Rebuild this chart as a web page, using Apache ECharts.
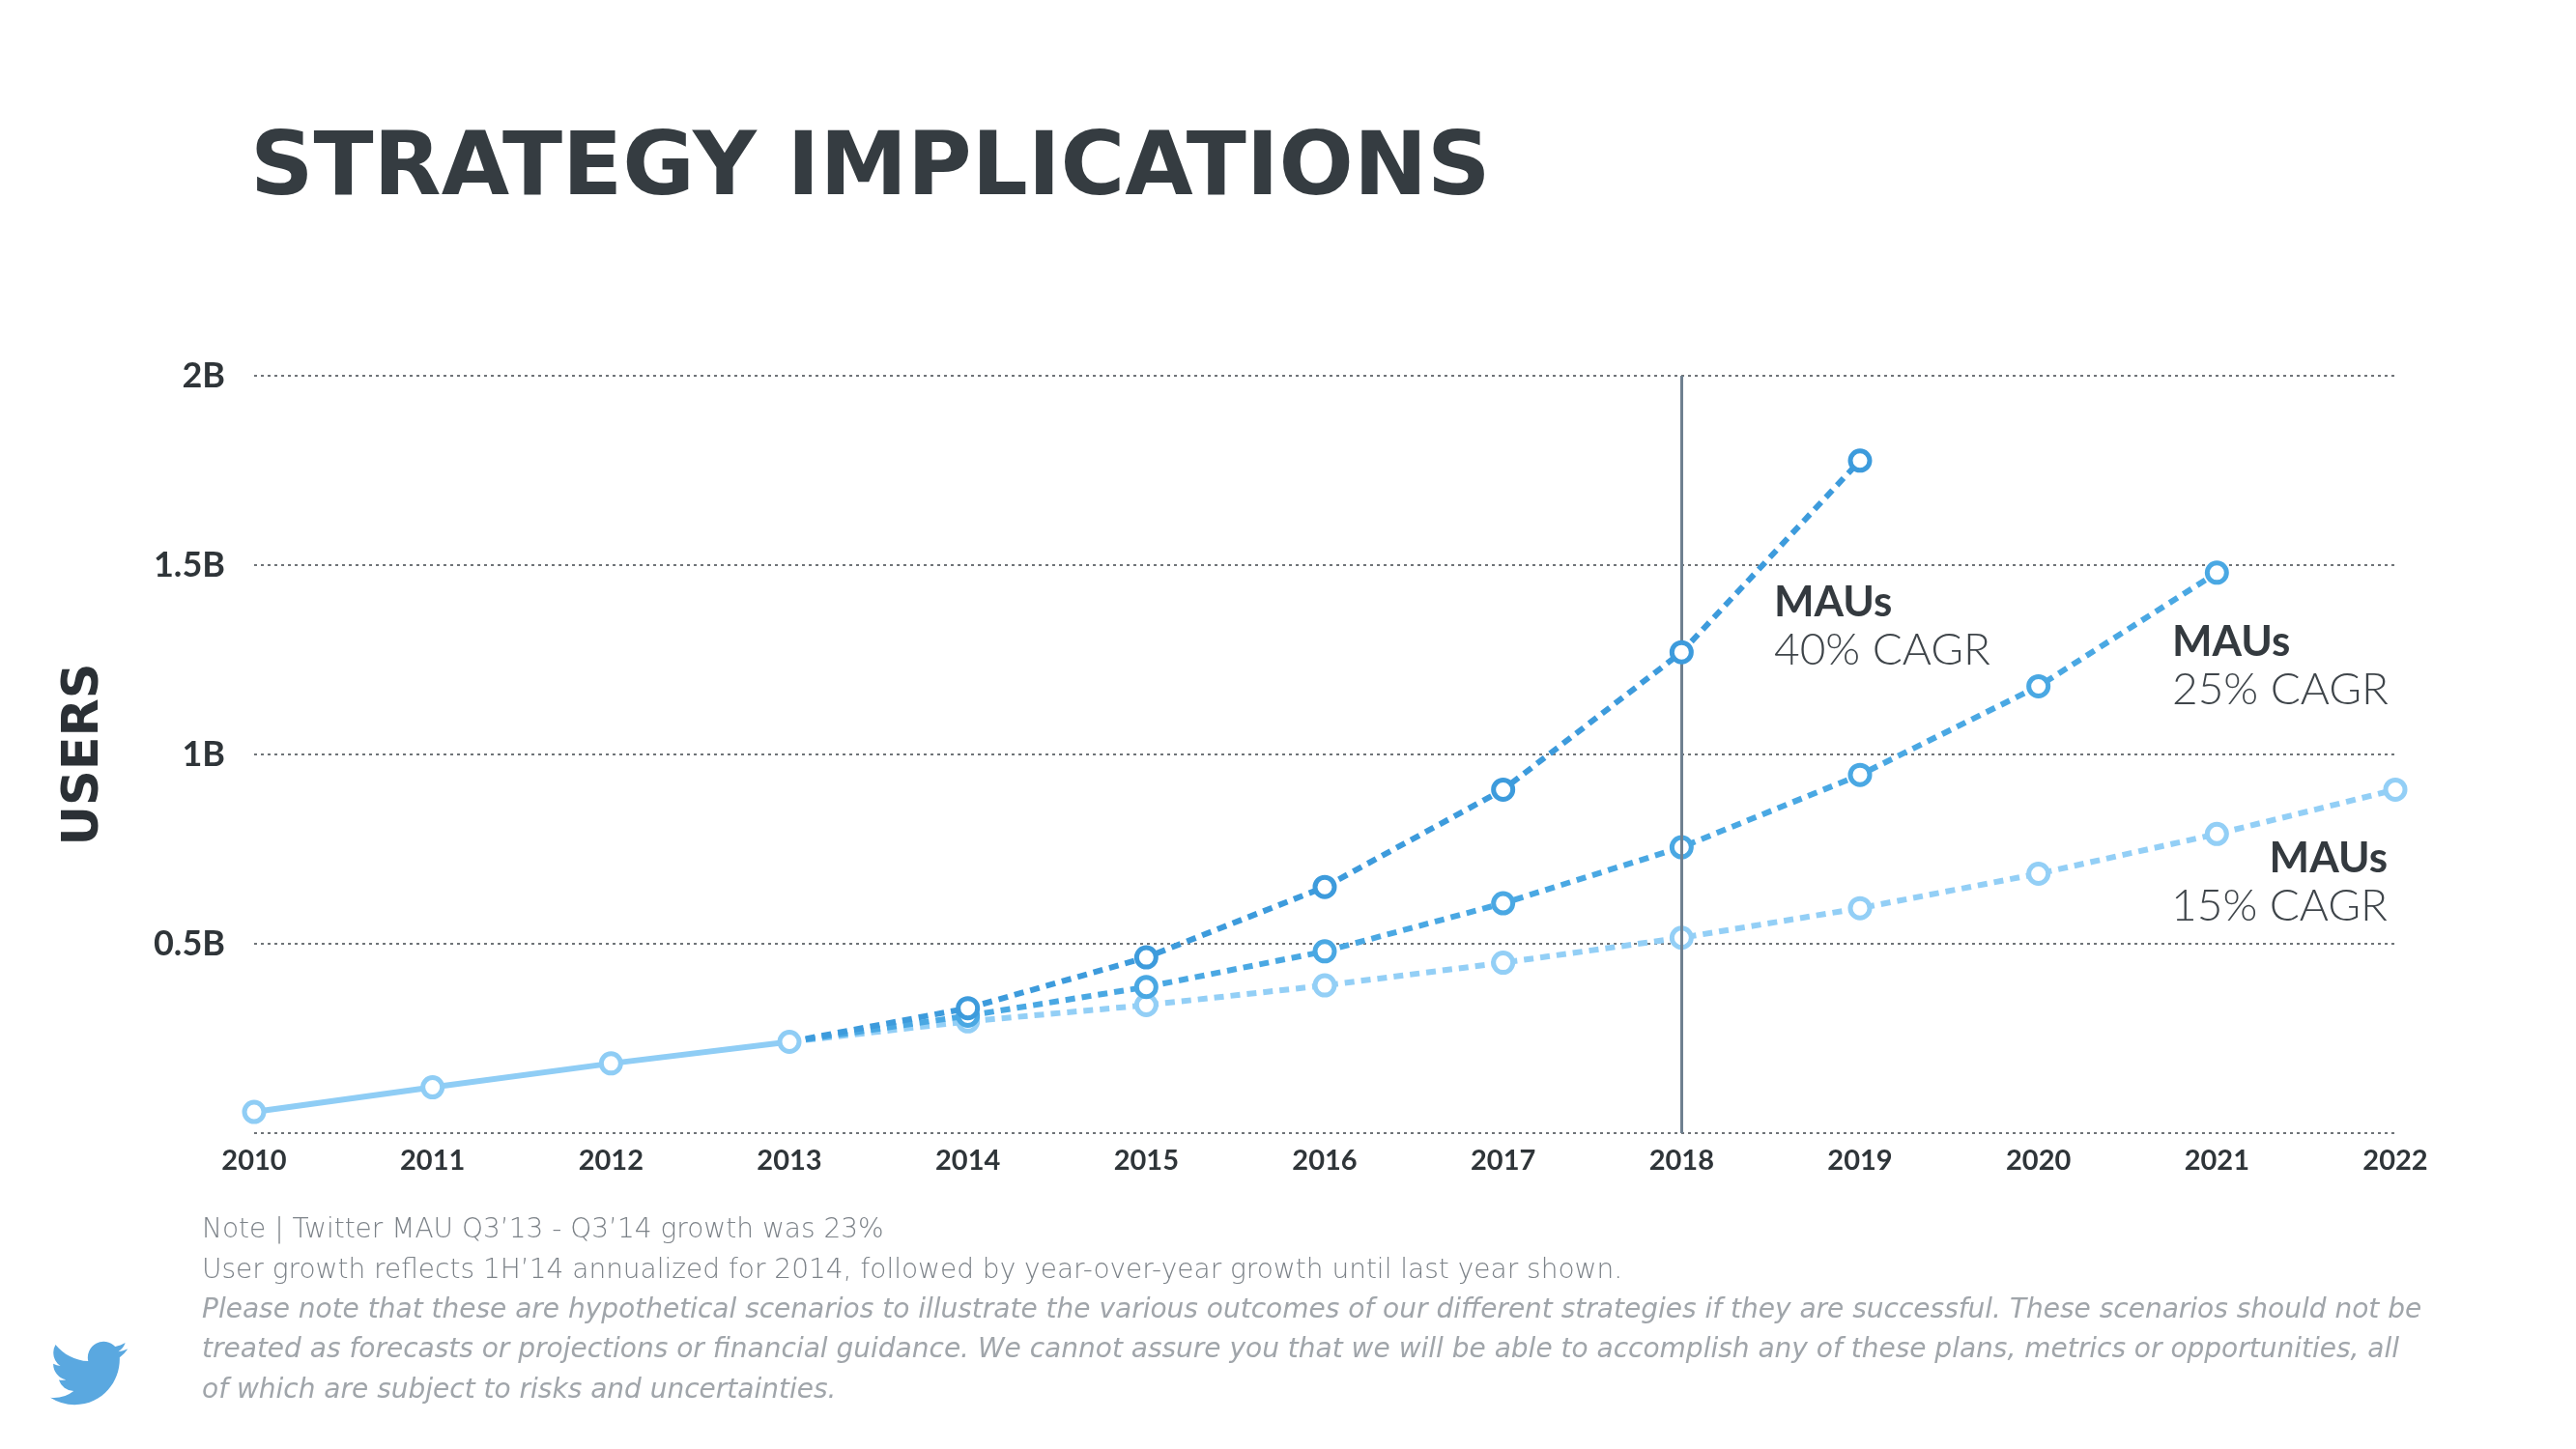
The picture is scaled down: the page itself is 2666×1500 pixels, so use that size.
<!DOCTYPE html>
<html>
<head>
<meta charset="utf-8">
<script src="https://cdn.jsdelivr.net/npm/echarts@6/dist/echarts.min.js"></script>
<style>
html,body{margin:0;padding:0;background:#ffffff;}
#chart{width:2666px;height:1500px;}
</style>
</head>
<body>
<div id="chart"></div>
<script>
// ---- data (users in billions) ----
const years = ['2010','2011','2012','2013','2014','2015','2016','2017','2018','2019','2020','2021','2022'];
const historical = [0.056, 0.121, 0.184, 0.241, null, null, null, null, null, null, null, null, null];
const cagr40 = [null, null, null, 0.241, 0.33, 0.464, 0.65, 0.907, 1.27, 1.776, null, null, null];
const cagr25 = [null, null, null, 0.241, 0.31, 0.386, 0.48, 0.607, 0.755, 0.946, 1.18, 1.48, null];
const cagr15 = [null, null, null, 0.241, 0.295, 0.338, 0.39, 0.45, 0.516, 0.594, 0.685, 0.79, 0.907];
const yTickLabels = ['', '0.5B', '1B', '1.5B', '2B'];
const markerYear = '2018';

const titleText = 'STRATEGY IMPLICATIONS';
const yAxisName = 'USERS';
const annotations = [
  { head: 'MAUs', sub: '40% CAGR' },
  { head: 'MAUs', sub: '25% CAGR' },
  { head: 'MAUs', sub: '15% CAGR' }
];
const notes = [
  'Note | Twitter MAU Q3’13 - Q3’14 growth was 23%',
  'User growth reflects 1H’14 annualized for 2014, followed by year-over-year growth until last year shown.',
  'Please note that these are hypothetical scenarios to illustrate the various outcomes of our different strategies if they are successful. These scenarios should not be',
  'treated as forecasts or projections or financial guidance. We cannot assure you that we will be able to accomplish any of these plans, metrics or opportunities, all',
  'of which are subject to risks and uncertainties.'
];

// ---- styling ----
const C40 = '#3d9bdc', C25 = '#4aa8e3', C15 = '#93cff6', CH = '#8fcdf5';

function dashedSeries(name, data, color, z) {
  return {
    name: name, type: 'line', z: z,
    data: data.map((v, i) => (i === 3 ? { value: v, symbol: 'none' } : v)),
    showAllSymbol: true,
    symbol: 'circle', symbolSize: 20,
    lineStyle: { color: color, width: 6, type: [10, 7] },
    itemStyle: { color: '#ffffff', borderColor: color, borderWidth: 5 },
    emphasis: { disabled: true }
  };
}

const birdSvg = '<svg xmlns="http://www.w3.org/2000/svg" viewBox="0 2 24 20"><path fill="#5aa8e0" d="M23.953 4.57a10 10 0 01-2.825.775 4.958 4.958 0 002.163-2.723c-.951.555-2.005.959-3.127 1.184a4.92 4.92 0 00-8.384 4.482C7.69 8.095 4.067 6.13 1.64 3.162a4.822 4.822 0 00-.666 2.475c0 1.71.87 3.213 2.188 4.096a4.904 4.904 0 01-2.228-.616v.06a4.923 4.923 0 003.946 4.827 4.996 4.996 0 01-2.212.085 4.936 4.936 0 004.604 3.417 9.867 9.867 0 01-6.102 2.105c-.39 0-.779-.023-1.17-.067a13.995 13.995 0 007.557 2.209c9.053 0 13.998-7.496 13.998-13.985 0-.21 0-.42-.015-.63A9.935 9.935 0 0024 4.59z"/></svg>';
const birdUrl = 'data:image/svg+xml;charset=utf-8,' + encodeURIComponent(birdSvg);

const chart = echarts.init(document.getElementById('chart'));
const noteY = [1274, 1316, 1357, 1398, 1440];
const noteTexts = notes.map((t, i) => ({
  type: 'text', x: 209, y: noteY[i],
  style: {
    text: t, fill: i >= 2 ? '#a0a5aa' : '#7c8288', verticalAlign: 'middle', align: 'left',
    font: (i >= 2 ? 'italic ' : '') + '200 28px "DejaVu Sans", sans-serif'
  }
}));

function annot(a, x, yHead, align) {
  return [
    { type: 'text', x: x, y: yHead, style: { text: a.head, fill: '#343a3f', align: align, verticalAlign: 'middle', font: 'bold 44px Lato, sans-serif' } },
    { type: 'text', x: x, y: yHead + 49, style: { text: a.sub, fill: '#3f454a', align: align, verticalAlign: 'middle', font: '300 46px Lato, sans-serif' } }
  ];
}

chart.setOption({
  animation: false,
  backgroundColor: '#ffffff',
  title: {
    text: titleText, left: 254, top: 127,
    textStyle: { fontFamily: 'DejaVu Sans', fontWeight: 'bold', fontSize: 91, color: '#353c41', lineHeight: 90 }
  },
  grid: { left: 263, right: 187, top: 389, bottom: 327, containLabel: false },
  xAxis: {
    type: 'category', data: years, boundaryGap: false,
    axisLine: { show: false }, axisTick: { show: false },
    axisLabel: { margin: 14, fontFamily: 'Lato', fontWeight: 'bold', fontSize: 29, color: '#2f3539' },
    splitLine: { show: false }
  },
  yAxis: {
    type: 'value', min: 0, max: 2, interval: 0.5,
    name: yAxisName, nameLocation: 'middle', nameRotate: 90, nameGap: 150,
    nameTextStyle: { fontFamily: 'DejaVu Sans', fontWeight: 'bold', fontSize: 51, color: '#2b3035' },
    axisLine: { show: false }, axisTick: { show: false },
    axisLabel: {
      margin: 30, fontFamily: 'Lato', fontWeight: 'bold', fontSize: 36, color: '#2f3539',
      formatter: v => yTickLabels[Math.round(v / 0.5)] || ''
    },
    splitLine: { show: true, lineStyle: { type: [3, 4], color: '#6f7478', width: 2 } }
  },
  series: [
    {
      type: 'line', data: [], z: 1, silent: true,
      markLine: {
        silent: true, symbol: ['none', 'none'], label: { show: false },
        lineStyle: { color: '#6f8090', width: 3, type: 'solid' },
        data: [{ xAxis: markerYear }]
      }
    },
    dashedSeries('MAUs 15% CAGR', cagr15, C15, 3),
    dashedSeries('MAUs 25% CAGR', cagr25, C25, 4),
    dashedSeries('MAUs 40% CAGR', cagr40, C40, 5),
    {
      name: 'Historical MAUs', type: 'line', z: 6,
      data: historical, showAllSymbol: true,
      symbol: 'circle', symbolSize: 20,
      lineStyle: { color: CH, width: 6, type: 'solid' },
      itemStyle: { color: '#ffffff', borderColor: CH, borderWidth: 5 },
      emphasis: { disabled: true }
    }
  ],
  graphic: [
    ...annot(annotations[0], 1836, 624, 'left'),
    ...annot(annotations[1], 2248, 665, 'left'),
    ...annot(annotations[2], 2471, 889, 'right'),
    ...noteTexts,
    {
      type: 'image', silent: true, x: 52, y: 1388,
      style: { image: birdUrl, width: 80, height: 67 }
    }
  ]
});
</script>
</body>
</html>
